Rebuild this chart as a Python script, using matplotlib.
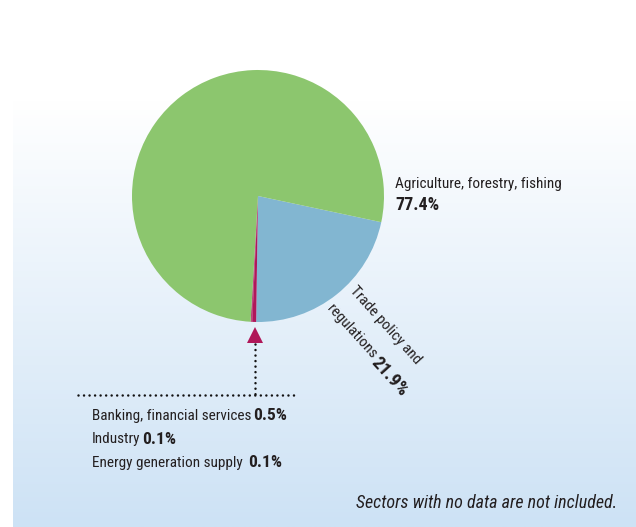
# Sector shares pie with gradient panel.

import numpy as np
import matplotlib.pyplot as plt
from matplotlib.colors import LinearSegmentedColormap

sectors = ['Trade policy and regulations', 'Banking, financial services',
           'Industry', 'Energy generation supply', 'Agriculture, forestry, fishing']
shares = [21.9, 0.5, 0.1, 0.1, 77.4]
colors = ['#82b6d1', '#b01759', '#b01759', '#b01759', '#8cc66e']

small_names = ['Banking, financial services', 'Industry', 'Energy generation supply ']
small_values = ['0.5%', '0.1%', '0.1%']

W, H = 636, 527
TXT = '#231f20'
NARROW = ['Roboto Condensed', 'PT Sans Narrow', 'Open Sans Condensed',
          'Liberation Sans Narrow', 'DejaVu Sans']


def Y(py):
    # pixel row (from top) -> data y
    return H - py


def label(ax, x, y, normal, bold, size=11, bsize=12.5):
    t = ax.text(x, y, normal, fontsize=size, color=TXT, family=NARROW,
                ha='left', va='baseline')
    ax.annotate(bold, xy=(1, 0), xycoords=t, xytext=(1.5, 0),
                textcoords='offset points', fontsize=bsize,
                fontweight='bold', color=TXT, family=NARROW,
                ha='left', va='bottom')


fig = plt.figure(figsize=(W / 100, H / 100), dpi=100)
ax = fig.add_axes([0, 0, 1, 1])

# background panel: white at top fading to light blue
grad = np.linspace(0, 1, 256).reshape(-1, 1)
cmap = LinearSegmentedColormap.from_list('bg', ['#ffffff', '#cde2f5'])
ax.imshow(grad, cmap=cmap, aspect='auto', extent=(13, W, Y(527), Y(100)),
          origin='upper', zorder=0)

ax.pie(shares, colors=colors, startangle=-12, counterclock=False,
       center=(258, Y(196)), radius=126,
       wedgeprops=dict(linewidth=0))

ax.set_xlim(0, W)
ax.set_ylim(0, H)
ax.set_aspect('auto')
ax.axis('off')

# agriculture label
ax.text(395, Y(188), 'Agriculture, forestry, fishing', fontsize=11,
        color=TXT, family=NARROW, ha='left', va='baseline')
ax.text(395, Y(210), '77.4%', fontsize=13, fontweight='bold',
        color=TXT, family=NARROW, ha='left', va='baseline')

# rotated trade label
ax.text(357, Y(284), 'Trade policy and', fontsize=11, color=TXT,
        family=NARROW, rotation=-48, rotation_mode='anchor',
        ha='left', va='top')
ax.text(334, Y(302), 'regulations', fontsize=11, color=TXT,
        family=NARROW, rotation=-48, rotation_mode='anchor',
        ha='left', va='top')
ax.text(381, Y(354), '21.9%', fontsize=13.5, fontweight='bold', color=TXT,
        family=NARROW, rotation=-48, rotation_mode='anchor',
        ha='left', va='top')

# leader for the tiny slices
dots = dict(linestyle=(0, (0.01, 2.2)), color='#111111', linewidth=1.8,
            dash_capstyle='round')
ax.plot([78, 298], [Y(395), Y(395)], **dots)
ax.plot([255, 255], [Y(344), Y(395)], **dots)
ax.plot([255], [Y(335)], marker='^', markersize=11, color='#b01759',
        markeredgewidth=0)

for i, (n, v) in enumerate(zip(small_names, small_values)):
    label(ax, 92, Y(420 + 23.5 * i), n, v)

ax.text(617, Y(508), 'Sectors with no data are not included.', fontsize=13,
        style='italic', color=TXT, family=NARROW, ha='right', va='baseline')

fig.savefig('out.png', dpi=100)
